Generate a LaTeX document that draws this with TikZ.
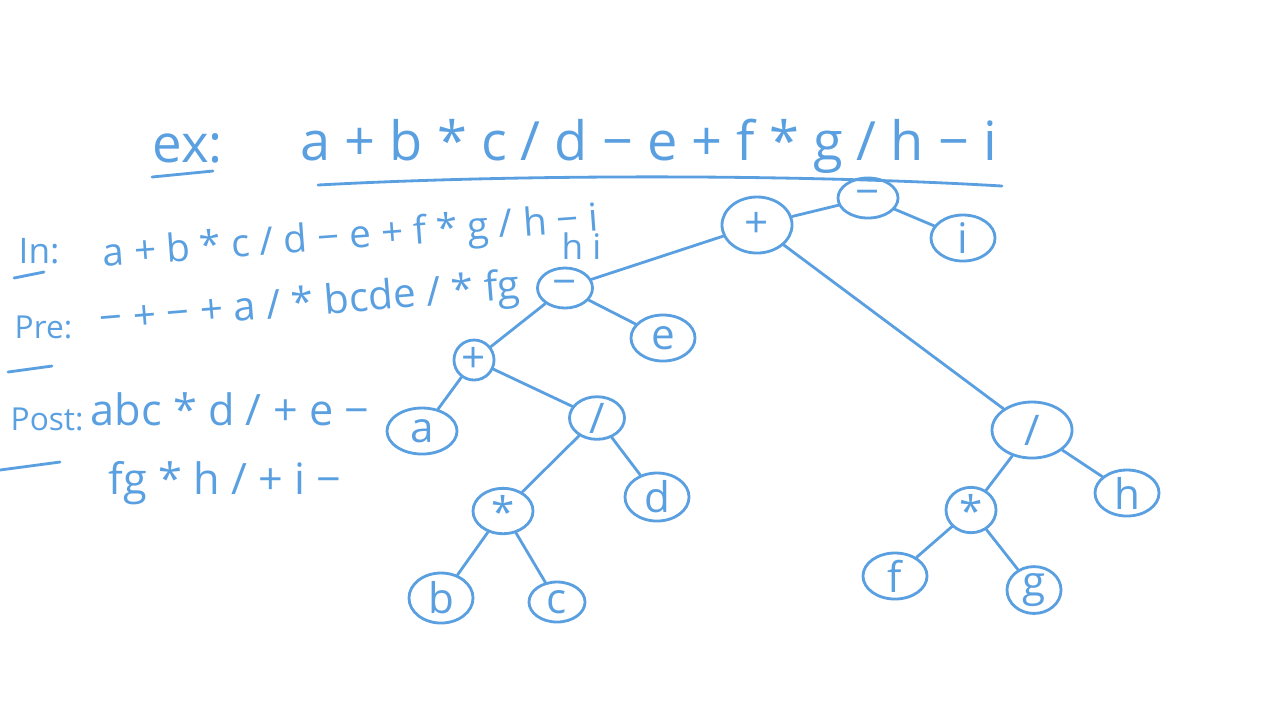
\documentclass[tikz,border=0pt]{standalone}
\usepackage{fontspec}
\setmainfont{Open Sans}
\usetikzlibrary{shapes.geometric}
\definecolor{handblue}{RGB}{90,160,225}

\tikzset{
	opnode/.style={draw=handblue,ellipse,line width=0.8pt,inner sep=0pt,
		minimum width=0.6cm,minimum height=0.4cm,text=handblue,font=\large},
	leafnode/.style={opnode,minimum width=0.64cm,minimum height=0.46cm},
	treeline/.style={draw=handblue,line width=0.8pt,line cap=round},
	txt/.style={text=handblue,inner sep=0pt,anchor=base west},
	uline/.style={draw=handblue,line width=0.8pt,line cap=round}
}

\begin{document}
\begin{tikzpicture}[x=0.01cm,y=-0.01cm]
	\useasboundingbox (0,0) rectangle (1280,720);

	%example expression
	\node[txt,font=\fontsize{15}{18}\selectfont] (exlbl) at (152,162) {ex:};
	\node[txt,font=\fontsize{15.4}{18}\selectfont] (exexpr) at (300,160) {a + b * c / d − e + f * g / h − i};
	\coordinate (exA) at (152,177); \coordinate (exB) at (213,171);
	\draw[uline] (exA)--(exB);
	\coordinate (exC) at (318,185); \coordinate (exD) at (1002,186);
	\draw[uline] (exC) .. controls (520,174) and (800,174) .. (exD);

	%in-order
	\node[txt,font=\fontsize{10}{12}\selectfont] (inlbl) at (18,263) {In:};
	\coordinate (inA) at (14,278); \coordinate (inB) at (44,272);
	\draw[uline] (inA)--(inB);
	\node[txt,rotate=4.2,font=\fontsize{11}{13}\selectfont] (inexpr) at (103,267) {a + b * c / d − e + f * g / h − i};

	%pre-order
	\node[txt,font=\fontsize{9}{11}\selectfont] (prelbl) at (14,338) {Pre:};
	\coordinate (preA) at (8,372); \coordinate (preB) at (52,366);
	\draw[uline] (preA)--(preB);
	\node[txt,rotate=4.7,font=\fontsize{11.5}{14}\selectfont] (preexpr) at (100,333) {− + − + a / * bcde / * fg};
	\node[txt,font=\fontsize{10}{12}\selectfont] (pretail) at (561,259) {h i};

	%post-order
	\node[txt,font=\fontsize{9}{11}\selectfont] (postlbl) at (10,430) {Post:};
	\coordinate (postA) at (0,470); \coordinate (postB) at (60,462);
	\draw[uline] (postA)--(postB);
	\node[txt,font=\fontsize{12.3}{15}\selectfont] (postexpr) at (90,425) {abc * d / + e −};
	\node[txt,font=\fontsize{12.3}{15}\selectfont] (posttail) at (108,494) {fg * h / + i −};

	%tree nodes
	\node[opnode] (m1) at (868,198) {−};
	\node[opnode,minimum width=0.7cm,minimum height=0.56cm] (p1) at (757,225) {+};
	\node[leafnode] (i) at (963,238) {i};
	\node[opnode,minimum width=0.55cm] (m2) at (565,288) {−};
	\node[opnode,minimum width=0.8cm,minimum height=0.56cm] (d2) at (1032,430) {/};
	\node[opnode,minimum width=0.4cm] (p2) at (474,360) {+};
	\node[leafnode] (e) at (663,338) {e};
	\node[leafnode,minimum width=0.7cm] (a) at (422,431) {a};
	\node[opnode,minimum width=0.55cm] (d1) at (597,418) {/};
	\node[opnode,minimum height=0.36cm] (s1) at (503,511) {*};
	\node[leafnode,minimum height=0.48cm] (d) at (657,497) {d};
	\node[leafnode,minimum height=0.5cm] (b) at (441,598) {b};
	\node[leafnode,minimum width=0.56cm,minimum height=0.4cm] (c) at (557,602) {c};
	\node[opnode,minimum width=0.5cm,minimum height=0.34cm] (s2) at (971,510) {*};
	\node[leafnode] (h) at (1127,493) {h};
	\node[leafnode] (f) at (895,576) {f};
	\node[leafnode,minimum width=0.54cm] (g) at (1034,590) {g};

	%tree edges
	\draw[treeline] (m1)--(p1);
	\draw[treeline] (m1)--(i);
	\draw[treeline] (p1)--(m2);
	\draw[treeline] (p1)--(d2);
	\draw[treeline] (m2)--(p2);
	\draw[treeline] (m2)--(e);
	\draw[treeline] (p2)--(a);
	\draw[treeline] (p2)--(d1);
	\draw[treeline] (d1)--(s1);
	\draw[treeline] (d1)--(d);
	\draw[treeline] (s1)--(b);
	\draw[treeline] (s1)--(c);
	\draw[treeline] (d2)--(s2);
	\draw[treeline] (d2)--(h);
	\draw[treeline] (s2)--(f);
	\draw[treeline] (s2)--(g);
\end{tikzpicture}
\end{document}
